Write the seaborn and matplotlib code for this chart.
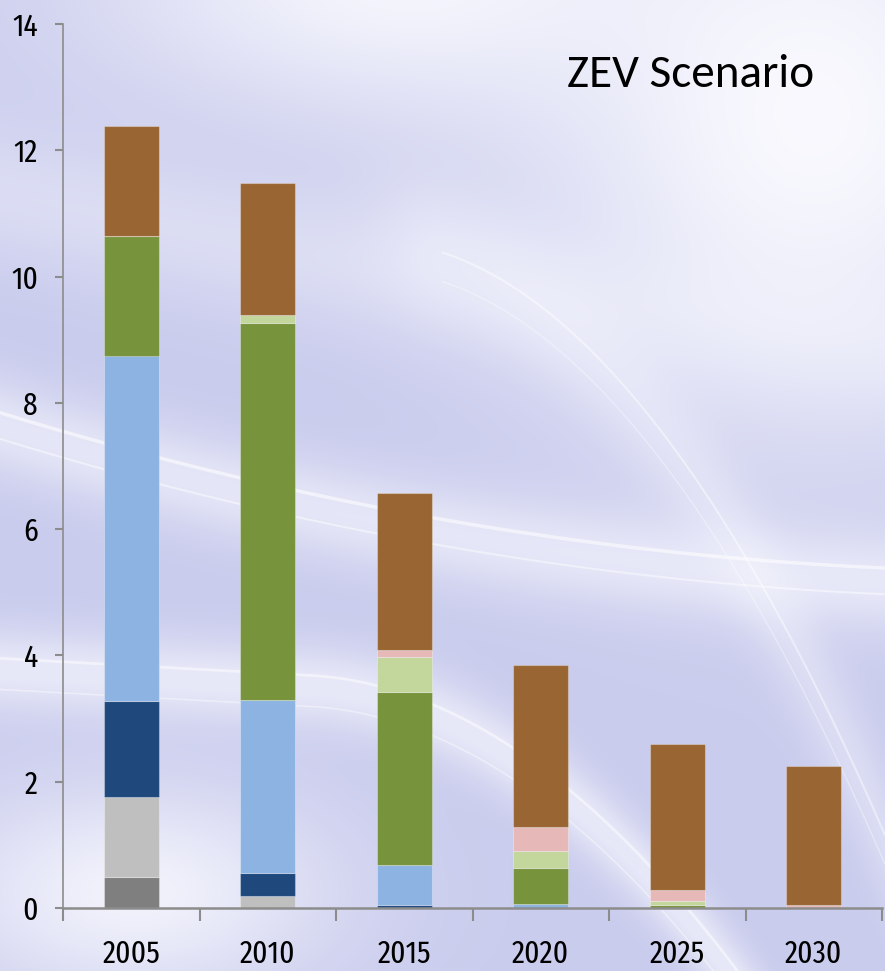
import numpy as np
import pandas as pd
import matplotlib
matplotlib.use("Agg")
import matplotlib.pyplot as plt
import seaborn as sns

years = ["2005", "2010", "2015", "2020", "2025", "2030"]
seg_dark_gray = [0.49, 0.00, 0.00, 0.00, 0.00, 0.00]
seg_light_gray = [1.27, 0.19, 0.00, 0.00, 0.00, 0.00]
seg_dark_blue = [1.52, 0.36, 0.05, 0.00, 0.00, 0.00]
seg_light_blue = [5.47, 2.74, 0.63, 0.06, 0.00, 0.00]
seg_green = [1.89, 5.97, 2.74, 0.57, 0.05, 0.00]
seg_light_green = [0.00, 0.13, 0.56, 0.27, 0.06, 0.00]
seg_pink = [0.00, 0.00, 0.11, 0.39, 0.18, 0.04]
seg_brown = [1.74, 2.09, 2.48, 2.56, 2.31, 2.21]
y_ticks = [0, 2, 4, 6, 8, 10, 12, 14]
title_text = "ZEV Scenario"

series = [
    ("dark_gray", seg_dark_gray, "#7f7f7f"),
    ("light_gray", seg_light_gray, "#bfbfbf"),
    ("dark_blue", seg_dark_blue, "#1f497d"),
    ("light_blue", seg_light_blue, "#8db3e2"),
    ("green", seg_green, "#77933c"),
    ("light_green", seg_light_green, "#c3d69b"),
    ("pink", seg_pink, "#e6b9b8"),
    ("brown", seg_brown, "#996633"),
]

sns.set_theme(style="white")
plt.rcParams["font.family"] = ["Fira Sans Extra Condensed", "DejaVu Sans"]

W, H = 885, 971
fig = plt.figure(figsize=(W / 100, H / 100), dpi=100)

# ---- decorative background (lavender with soft white swooshes) ----
bg = fig.add_axes([0, 0, 1, 1], zorder=-10)
gx, gy = np.meshgrid(np.linspace(0, 1, 443), np.linspace(0, 1, 486))


def curve1(x):
    return 0.56 - 0.28 * x + 0.12 * x ** 2


def curve2(x):
    return 0.31 - 0.05 * x - 1.2 * np.clip(x - 0.35, 0, None) ** 2


def curve3(x):
    return 0.80 - 0.20 * x + 0.05 * x ** 2


def curve4(x):
    return 0.74 - 0.3 * (x - 0.5) - 1.8 * np.clip(x - 0.5, 0, None) ** 2


def band(fn, width, strength, x0=0.0):
    yc = fn(gx)
    b = strength * np.exp(-((gy - yc) ** 2) / (2 * width ** 2))
    return np.where(gx >= x0, b, b * np.exp(-((gx - x0) ** 2) / 0.005))


fields = [
    0.95 * np.exp(-(((gx - 0.92) ** 2) / 0.10 + ((gy - 0.88) ** 2) / 0.10)),
    0.85 * np.exp(-(((gx - 0.45) ** 2) / 0.12 + ((gy - 1.02) ** 2) / 0.02)),
    0.80 * np.exp(-(((gx - 0.15) ** 2) / 0.05 + ((gy - 0.08) ** 2) / 0.012)),
    band(curve1, 0.035, 0.55),
    band(curve2, 0.03, 0.6),
    band(curve3, 0.05, 0.35),
    band(curve4, 0.05, 0.35, x0=0.5),
]
w = 1 - np.prod([1 - np.clip(f, 0, 1) for f in fields], axis=0)
c_lo = np.array([0.79, 0.80, 0.93])
c_hi = np.array([0.985, 0.985, 1.0])
img = c_lo[None, None, :] * (1 - w[..., None]) + c_hi[None, None, :] * w[..., None]
bg.imshow(img, extent=[0, 1, 0, 1], origin="lower", aspect="auto", interpolation="bilinear")
xs = np.linspace(0, 1, 400)
xr = np.linspace(0.5, 1, 300)
for xx, yy, lw, al in [
    (xs, curve1(xs) + 0.015, 2.5, 0.55),
    (xs, curve1(xs) - 0.012, 1.5, 0.45),
    (xs, curve2(xs) + 0.012, 2.0, 0.5),
    (xs, curve2(xs) - 0.02, 1.2, 0.4),
    (xr, curve4(xr), 1.5, 0.45),
    (xr, curve4(xr) - 0.03, 1.0, 0.35),
]:
    bg.plot(xx, yy, color="white", lw=lw, alpha=al)
bg.set_xlim(0, 1)
bg.set_ylim(0, 1)
bg.axis("off")

# ---- chart ----
ax = fig.add_axes([63 / W, 1 - 908 / H, (882 - 63) / W, (908 - 24) / H])
ax.patch.set_alpha(0)

cum = np.zeros(len(years))
for name, vals, col in series:
    df = pd.DataFrame({"year": years, "value": vals})
    sns.barplot(data=df, x="year", y="value", bottom=cum, color=col, width=0.4,
                edgecolor=(1, 1, 1, 0.3), linewidth=0.8, saturation=1, ax=ax,
                errorbar=None)
    cum = cum + np.array(vals)

ax.set_xlim(-0.5, 5.5)
ax.set_ylim(0, 14)
ax.set_yticks(y_ticks)
ax.set_yticklabels([str(v) for v in y_ticks])
ax.set_xticks(np.arange(-0.5, 6.0, 1.0), minor=False)
ax.set_xticklabels([""] * 7)
ax.set_xticks(np.arange(0, 6), minor=True)
ax.set_xticklabels(years, minor=True)
ax.set_xlabel("")
ax.set_ylabel("")

for s in ["top", "right"]:
    ax.spines[s].set_visible(False)
for s in ["left", "bottom"]:
    ax.spines[s].set_color("#8c8c8c")
ax.spines["left"].set_linewidth(1.2)
ax.spines["bottom"].set_linewidth(1.8)

ax.tick_params(axis="y", which="major", direction="out", length=6, width=1.5,
               color="#8c8c8c", left=True, pad=12, labelsize=23, labelcolor="black")
ax.tick_params(axis="x", which="major", direction="out", length=9, width=1.5,
               color="#8c8c8c", bottom=True, labelbottom=False)
ax.tick_params(axis="x", which="minor", length=0, pad=22, labelsize=23, labelcolor="black")

fig.text(567 / W, 1 - 87 / H, title_text, fontsize=34, family=["Carlito", "DejaVu Sans"],
         color="black", ha="left", va="baseline")

fig.savefig("out.png", dpi=100)
